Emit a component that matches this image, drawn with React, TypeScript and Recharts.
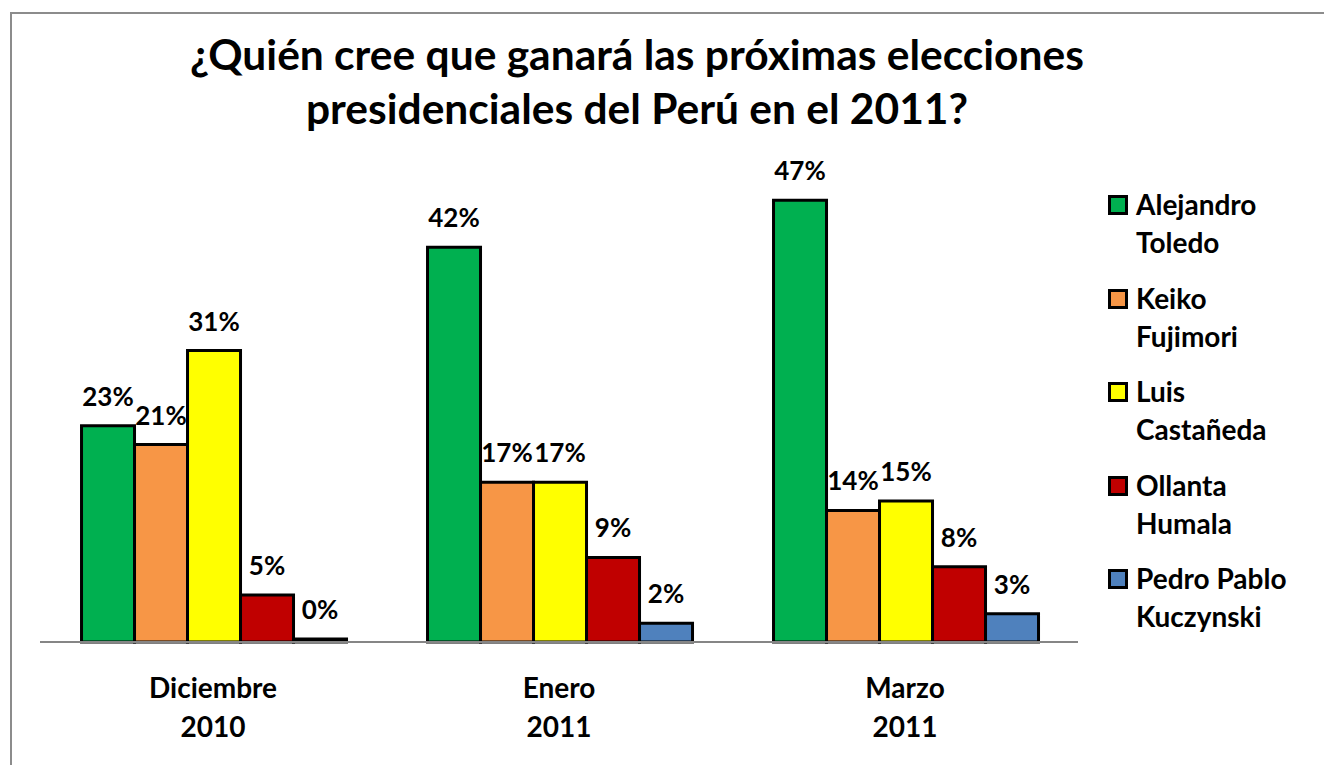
import { BarChart, Bar, XAxis, YAxis, LabelList, Legend } from "recharts";

const periods = ["Diciembre 2010", "Enero 2011", "Marzo 2011"];
const candidates = ["Alejandro Toledo", "Keiko Fujimori", "Luis Castañeda", "Ollanta Humala", "Pedro Pablo Kuczynski"];
const legendLines = [["Alejandro", "Toledo"], ["Keiko", "Fujimori"], ["Luis", "Castañeda"], ["Ollanta", "Humala"], ["Pedro Pablo", "Kuczynski"]];
const toledo = [23, 42, 47];
const fujimori = [21, 17, 14];
const castaneda = [31, 17, 15];
const humala = [5, 9, 8];
const kuczynski = [0, 2, 3];
const keys = ["toledo", "fujimori", "castaneda", "humala", "kuczynski"];
const colors = ["#00B050", "#F79646", "#FFFF00", "#C00000", "#4F81BD"];

const rows = periods.map((period, i) => ({
  period,
  toledo: toledo[i],
  fujimori: fujimori[i],
  castaneda: castaneda[i],
  humala: humala[i],
  kuczynski: kuczynski[i],
}));

const FONT = "Lato, 'Open Sans', sans-serif";

function PeriodTick({ x, y, payload }: any) {
  const [month, year] = String(payload.value).split(" ");
  return (
    <text x={x} y={y} textAnchor="middle" fontFamily={FONT} fontWeight={700} fontSize={28} fill="#000">
      <tspan x={x} dy={48}>{month}</tspan>
      <tspan x={x} dy={39}>{year}</tspan>
    </text>
  );
}

function CandidateLegend() {
  return (
    <div style={{ fontFamily: FONT, fontWeight: 700, fontSize: 28, color: "#000" }}>
      {legendLines.map((lines, i) => (
        <div key={candidates[i]} style={{ position: "relative", height: 93.5, lineHeight: "38px" }}>
          <span
            style={{
              position: "absolute", left: 0, top: 10, width: 14, height: 14,
              background: colors[i], border: "3px solid #000",
            }}
          />
          <div style={{ paddingLeft: 28 }}>{lines[0]}</div>
          <div style={{ paddingLeft: 28 }}>{lines[1]}</div>
        </div>
      ))}
    </div>
  );
}

export default function App() {
  return (
    <div style={{ position: "absolute", left: 0, top: 0, width: 1324, height: 765, overflow: "hidden", background: "#fff" }}>
      <div style={{ position: "absolute", left: 10, top: 12, width: 1400, height: 900, border: "2px solid #8c8c8c" }} />
      <div
        style={{
          position: "absolute", left: 0, top: 27, width: 1274, textAlign: "center",
          fontFamily: FONT, fontWeight: 700, fontSize: 42.5, lineHeight: "54px", color: "#000",
        }}
      >
        <div>¿Quién cree que ganará las próximas elecciones</div>
        <div>presidenciales del Perú en el 2011?</div>
      </div>
      <BarChart
        width={1324}
        height={765}
        data={rows}
        margin={{ top: 172, right: 246, bottom: 43, left: 40 }}
        barCategoryGap="12%"
        barGap={0}
        style={{ position: "absolute", left: 0, top: 0 }}
      >
        <XAxis
          dataKey="period"
          height={80}
          axisLine={{ stroke: "#868686", strokeWidth: 2 }}
          tickLine={false}
          tick={<PeriodTick />}
          interval={0}
        />
        <YAxis hide domain={[0, 50]} />
        <Legend
          layout="vertical"
          align="center"
          verticalAlign="middle"
          wrapperStyle={{ left: 1108, top: 185, width: 210 }}
          content={<CandidateLegend />}
        />
        {keys.map((k, i) => (
          <Bar
            key={k}
            dataKey={k}
            name={candidates[i]}
            fill={colors[i]}
            stroke="#000"
            strokeWidth={3}
            minPointSize={k === "kuczynski" ? 3 : 0}
            isAnimationActive={false}
          >
            <LabelList
              dataKey={k}
              position="top"
              offset={20}
              formatter={(v: any) => `${v}%`}
              style={{ fontFamily: FONT, fontWeight: 700, fontSize: 26, fill: "#000" }}
            />
          </Bar>
        ))}
      </BarChart>
    </div>
  );
}
